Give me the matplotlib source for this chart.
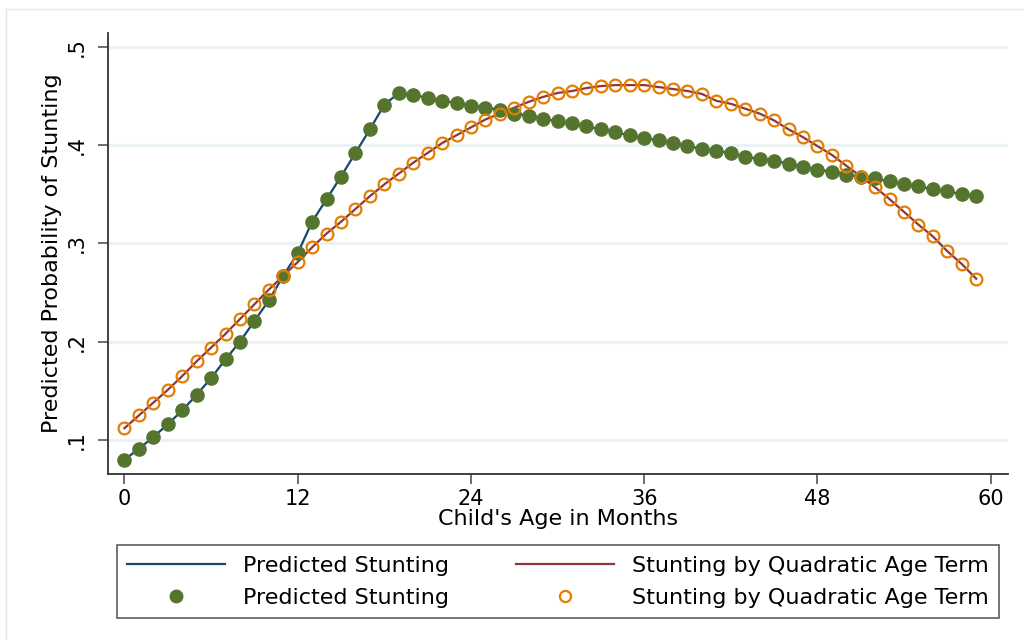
import numpy as np
import matplotlib
matplotlib.use('Agg')
from matplotlib import pyplot as plt
from matplotlib.lines import Line2D
from matplotlib.patches import Rectangle

plt.rcParams['font.family'] = ['DejaVu Sans']

# age in months, 0..59
age = np.arange(60)

# predicted probability of stunting (piecewise model)
pred = [0.080, 0.091, 0.103, 0.116, 0.130, 0.146, 0.163, 0.182, 0.200, 0.221,
        0.242, 0.267, 0.290, 0.322, 0.345, 0.368, 0.392, 0.416, 0.441, 0.453,
        0.451, 0.448, 0.445, 0.443, 0.440, 0.438, 0.436, 0.432, 0.430, 0.427,
        0.424, 0.422, 0.419, 0.416, 0.413, 0.410, 0.407, 0.405, 0.402, 0.399,
        0.396, 0.394, 0.392, 0.388, 0.386, 0.384, 0.381, 0.378, 0.375, 0.373,
        0.370, 0.368, 0.366, 0.363, 0.360, 0.358, 0.355, 0.353, 0.350, 0.348]

# predicted probability with a quadratic age term
quad = [0.112, 0.125, 0.138, 0.151, 0.165, 0.180, 0.194, 0.208, 0.223, 0.238,
        0.253, 0.267, 0.281, 0.296, 0.310, 0.322, 0.335, 0.348, 0.360, 0.371,
        0.382, 0.392, 0.402, 0.410, 0.418, 0.426, 0.432, 0.438, 0.444, 0.449,
        0.453, 0.455, 0.458, 0.460, 0.461, 0.461, 0.461, 0.459, 0.457, 0.455,
        0.452, 0.445, 0.442, 0.437, 0.432, 0.425, 0.416, 0.408, 0.399, 0.390,
        0.379, 0.368, 0.357, 0.345, 0.332, 0.319, 0.307, 0.292, 0.279, 0.264]

xticks = [0, 12, 24, 36, 48, 60]
yticks = [0.1, 0.2, 0.3, 0.4, 0.5]
ylabels = ['.1', '.2', '.3', '.4', '.5']

navy = '#1a476f'
maroon = '#90353b'
green = '#55752f'
orange = '#e37e00'

fig = plt.figure(figsize=(10.24, 6.4), dpi=100)
fig.patches.append(Rectangle((6 / 1024, -0.1), 1.2, (640 - 9) / 640 + 0.1,
                             transform=fig.transFigure, fill=False,
                             edgecolor='#e6e6e6', lw=1.0, zorder=0))

ax = fig.add_axes([108 / 1024, 166 / 640, 900 / 1024, 441 / 640])

ax.plot(age, pred, color=navy, lw=1.6, zorder=2)
ax.plot(age, quad, color=maroon, lw=1.6, zorder=2)
ax.plot(age, pred, 'o', color=green, ms=9.5, mec=green, ls='none', zorder=3)
ax.plot(age, quad, 'o', mfc='none', mec=orange, mew=1.6, ms=8.5, ls='none', zorder=4)

ax.set_xlim(-1.14, 61.2)
ax.set_ylim(0.0654, 0.514)
ax.set_xticks(xticks)
ax.set_yticks(yticks)
ax.set_yticklabels(ylabels, rotation=90, va='center')
ax.tick_params(axis='both', direction='out', length=7, width=1.2,
               color='#555555', labelsize=15, pad=4)
ax.tick_params(axis='y', pad=8)
ax.grid(axis='y', color='#eaf2f3', lw=2.2, zorder=0)
ax.set_axisbelow(True)
for s in ['top', 'right']:
    ax.spines[s].set_visible(False)
for s in ['left', 'bottom']:
    ax.spines[s].set_color('#333333')
    ax.spines[s].set_linewidth(1.3)

ax.set_xlabel("Child's Age in Months", fontsize=16, labelpad=0)
ax.set_ylabel('Predicted Probability of Stunting', fontsize=16, labelpad=4)

handles = [Line2D([], [], color=navy, lw=1.6),
           Line2D([], [], marker='o', color=green, ls='none', ms=9),
           Line2D([], [], color=maroon, lw=1.6),
           Line2D([], [], marker='o', mfc='none', mec=orange, mew=1.6, ls='none', ms=8)]
labels = ['Predicted Stunting', 'Predicted Stunting',
          'Stunting by Quadratic Age Term', 'Stunting by Quadratic Age Term']
leg = fig.legend(handles, labels, ncol=2, loc='lower left',
                 bbox_to_anchor=(117 / 1024, 22 / 640, 882 / 1024, 73 / 640),
                 mode='expand', fontsize=16, frameon=True, fancybox=False,
                 edgecolor='#333333', handlelength=4.4, handletextpad=0.8,
                 labelspacing=0.54, borderpad=0.47, borderaxespad=0)
leg.get_frame().set_linewidth(1.2)

fig.savefig('out.png', dpi=100)
